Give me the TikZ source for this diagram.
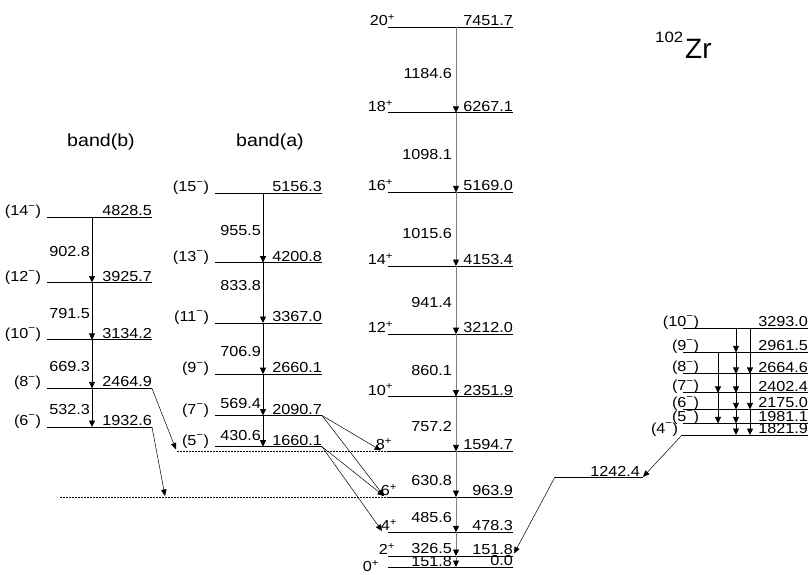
\documentclass[tikz,border=0pt]{standalone}
\usepackage{fontspec}
\setmainfont{Liberation Sans}
\newfontfamily\nf[FakeStretch=1.12]{Liberation Sans}
\newfontfamily\pf{Liberation Sans}
\usetikzlibrary{arrows.meta}
\newcommand{\spp}[1]{#1\textsuperscript{+}}
\newcommand{\spn}[1]{(#1\textsuperscript{\raisebox{0.25ex}{−}})}
\tikzset{
  lvl/.style={line width=0.9pt},
  tr/.style={line width=0.7pt,-{Triangle[length=6.5pt,width=6pt,color=black]}},
  gv/.style={draw=black!50},
  dg/.style={line width=0.5pt,-{Triangle[length=6.5pt,width=5.5pt]}},
  lab/.style={font=\nf\fontsize{14.5}{14.5}\selectfont, anchor=base east, inner sep=0pt, outer sep=0pt},
  dots/.style={line width=0.6pt, dash pattern=on 1.5pt off 1.5pt},
}
\begin{document}
\begin{tikzpicture}[x=1pt,y=-1pt]
\useasboundingbox (0,0) rectangle (812,574);

% ---------------- ground band ----------------
\foreach \n/\y/\s/\e/\sx in {g2/556/2/151.8/395, g4/532.3/4/478.3/397, g6/497.1/6/963.9/397,
  g8/451.4/8/1594.7/392, g10/396.6/10/2351.9/393, g12/334.2/12/3212.0/393,
  g14/266/14/4153.4/393, g16/192.4/16/5169.0/393, g18/112.8/18/6267.1/393, g20/27/20/7451.7/395}{
  \coordinate (\n-l) at (388,\y);
  \coordinate (\n-r) at (513,\y);
  \coordinate (\n-v) at (456,\y);
  \draw[lvl] (\n-l) -- (\n-r);
  \node[lab] (\n-e) at (513,\y-1.5) {\e};
  \node[lab] (\n-s) at (\sx,\y-1.5) {\spp{\s}};
}
\coordinate (g0-l) at (388,567);
\coordinate (g0-r) at (513,567);
\coordinate (g0-v) at (456,567);
\draw[lvl] (g0-l) -- (g0-r);
\node[lab] (g0-e) at (513,565.5) {0.0};
\node[lab] (g0-s) at (379,571.5) {\spp{0}};

\foreach \a/\b in {g20/g18,g18/g16,g16/g14,g14/g12,g12/g10,g10/g8,g8/g6,g6/g4,g4/g2,g2/g0}
  \draw[tr,gv] (\a-v) -- (\b-v);
\foreach \t/\yb [count=\i] in {1184.6/78, 1098.1/159, 1015.6/238, 941.4/307, 860.1/375,
  757.2/431, 630.8/485, 485.6/522, 326.5/553, 151.8/566.5}
  \node[lab] (gg\i) at (452,\yb) {\t};

% ---------------- band(a) ----------------
\foreach \n/\y/\s/\e in {a5/446.7/5/1660.1, a7/415.5/7/2090.7, a9/374.2/9/2660.1,
  a11/323/11/3367.0, a13/262.6/13/4200.8, a15/193.3/15/5156.3}{
  \coordinate (\n-l) at (215,\y);
  \coordinate (\n-r) at (322,\y);
  \coordinate (\n-v) at (263,\y);
  \draw[lvl] (\n-l) -- (\n-r);
  \node[lab] (\n-e) at (322,\y-1.5) {\e};
  \node[lab] (\n-s) at (209,\y-1.5) {\spn{\s}};
}
\foreach \a/\b in {a15/a13,a13/a11,a11/a9,a9/a7,a7/a5}
  \draw[tr] (\a-v) -- (\b-v);
\foreach \t/\yb [count=\i] in {955.5/235, 833.8/290, 706.9/356, 569.4/408, 430.6/440}
  \node[lab] (ga\i) at (261,\yb) {\t};

% ---------------- band(b) ----------------
\foreach \n/\y/\s/\e in {b6/427/6/1932.6, b8/388.4/8/2464.9, b10/339.9/10/3134.2,
  b12/282.5/12/3925.7, b14/217.1/14/4828.5}{
  \coordinate (\n-l) at (47,\y);
  \coordinate (\n-r) at (152,\y);
  \coordinate (\n-v) at (92,\y);
  \draw[lvl] (\n-l) -- (\n-r);
  \node[lab] (\n-e) at (152,\y-1.5) {\e};
  \node[lab] (\n-s) at (41,\y-1.5) {\spn{\s}};
}
\foreach \a/\b in {b14/b12,b12/b10,b10/b8,b8/b6}
  \draw[tr] (\a-v) -- (\b-v);
\foreach \t/\yb [count=\i] in {902.8/256, 791.5/318, 669.3/371, 532.3/414}
  \node[lab] (gb\i) at (90,\yb) {\t};

% ---------------- right band ----------------
\foreach \n/\y/\s/\e/\sx in {r5/423.4/5/1981.1/699, r6/409.4/6/2175.0/699, r7/392.9/7/2402.4/699,
  r8/373.9/8/2664.6/699, r9/352.4/9/2961.5/699, r10/328.4/10/3293.0/699}{
  \coordinate (\n-l) at (683,\y);
  \coordinate (\n-r) at (808,\y);
  \coordinate (\n-a) at (718,\y);
  \coordinate (\n-b) at (736,\y);
  \coordinate (\n-c) at (750,\y);
  \draw[lvl] (\n-l) -- (\n-r);
  \node[lab] (\n-e) at (808,\y-1.5) {\e};
  \node[lab] (\n-s) at (\sx,\y-2) {\spn{\s}};
}
\coordinate (r4-l) at (682,435);
\coordinate (r4-r) at (808,435);
\coordinate (r4-b) at (736,435);
\coordinate (r4-c) at (750,435);
\draw[lvl] (r4-l) -- (r4-r);
\node[lab] (r4-e) at (808,433.5) {1821.9};
\node[lab] (r4-s) at (678,433) {\spn{4}};
\foreach \a/\b in {r10/r9,r9/r8,r8/r7,r7/r6,r6/r5,r5/r4}
  \draw[tr] (\a-b) -- (\b-b);
\foreach \a/\b in {r10/r8,r8/r6,r6/r4}
  \draw[tr] (\a-c) -- (\b-c);
\foreach \a/\b in {r9/r7,r7/r5}
  \draw[tr] (\a-a) -- (\b-a);

% ---------------- inter-band transitions ----------------
\coordinate (du) at (177,451.4);
\coordinate (dl) at (60,497.1);
\draw[dots] (du) -- (g8-l);
\draw[dots] (dl) -- (g6-l);
\coordinate (tb8) at (176,449.5);
\coordinate (tb6) at (165,496);
\draw[dg] (b8-r) -- (tb8);
\draw[dg] (b6-r) -- (tb6);

\coordinate (t8) at (381,450.5);
\coordinate (t6) at (384,496);
\coordinate (t4) at (382,531);
\draw[dg] (a7-r) -- (t8);
\draw[dg] (a7-r) -- (t6);
\draw[dg] (a5-r) -- (t6);
\draw[dg] (a5-r) -- (t4);

\coordinate (v1) at (555,477);
\coordinate (v2) at (643,477);
\coordinate (t2) at (514,553.5);
\draw[dg] (r4-l) -- (v2);
\draw[line width=0.5pt] (v1) -- (v2);
\draw[dg] (v1) -- (t2);
\node[lab] (l1242) at (640,476) {1242.4};

% ---------------- titles ----------------
\node[font=\nf\fontsize{17.5}{17.5}\selectfont, anchor=base, inner sep=0pt] (tb) at (101,146) {band(b)};
\node[font=\nf\fontsize{17.5}{17.5}\selectfont, anchor=base, inner sep=0pt] (ta) at (270,146) {band(a)};
\node[font=\nf\fontsize{15}{15}\selectfont, anchor=base west, inner sep=0pt] (zA) at (655,42) {102};
\node[font=\pf\fontsize{28}{28}\selectfont, anchor=base west, inner sep=0pt] (zZ) at (685,58) {Zr};
\end{tikzpicture}
\end{document}
